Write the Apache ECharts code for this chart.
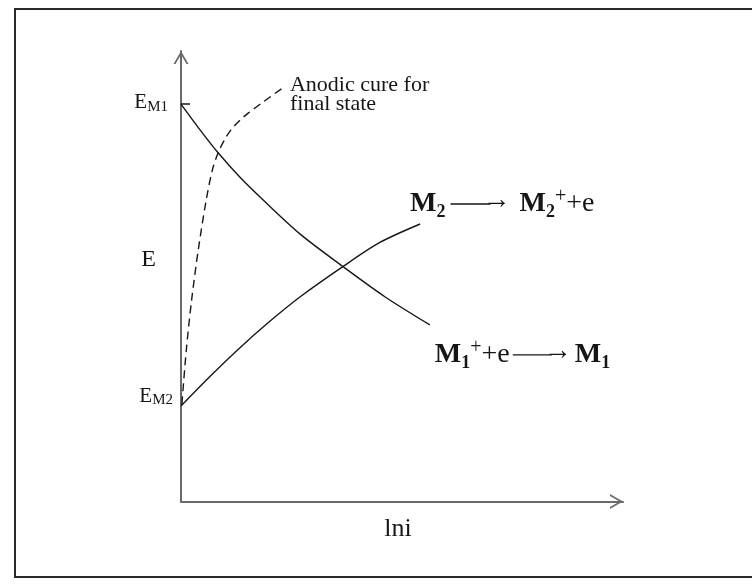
<!DOCTYPE html>
<html>
<head>
<meta charset="utf-8">
<script src="https://cdn.jsdelivr.net/npm/echarts@6/dist/echarts.min.js"></script>
<style>
  html, body { margin: 0; padding: 0; background: #ffffff; }
  #chart { width: 752px; height: 587px; }
</style>
</head>
<body>
<div id="chart"></div>
<script>
// Polarization diagram: potential E against ln i (arbitrary units, 0-100 on both axes)

// Cathodic branch  M1+ + e -> M1, starting at the equilibrium potential E_M1
const cathodicM1 = [[0, 88.2], [4.3, 82.5], [8.4, 77.4], [13.4, 71.9], [18.6, 66.9],
                    [26.9, 59.4], [36.7, 52.1], [46.2, 45.4], [56.3, 39.2]];
// Anodic branch  M2 -> M2+ + e, starting at the equilibrium potential E_M2
const anodicM2 = [[0, 21.2], [6.6, 27.8], [13.4, 34.2], [20.1, 40.0], [26.9, 45.4],
                  [36.7, 52.2], [45.0, 57.5], [54.1, 61.6]];
// Anodic curve for the final state (dashed)
const anodicFinal = [[0.2, 21.6], [1.2, 33.6], [2.4, 44.7], [3.9, 55.8], [5.7, 66.9], [7.1, 73.6],
                     [8.4, 77.4], [9.8, 80.2], [11.3, 82.5], [13.4, 84.7], [15.2, 86.2],
                     [18.6, 88.7], [23.3, 92.0]];
// Marked potential on the E axis
const tickPotentials = [88.2];

const SERIF = '"Liberation Serif", "Times New Roman", serif';
const INK = '#161616';
const AXIS = '#6a6a6a';

// open chevron arrow head, pointing up (rotated by the axis)
const chevron = 'path://M0,13 L7.5,0 L15,13 L13,13 L7.5,3.4 L2,13 Z';

// rich text styles shared by the reaction labels; the long reaction arrow is a
// thin bar token followed by an arrow glyph that overlaps the bar's end
function reactionRich(gapBefore, barWidth, gapAfter) {
  return {
    b:  { fontFamily: SERIF, fontWeight: 'bold', fontSize: 28, lineHeight: 34, verticalAlign: 'middle', color: INK },
    sb: { fontFamily: SERIF, fontWeight: 'bold', fontSize: 18, lineHeight: 21, verticalAlign: 'bottom', color: INK },
    sp: { fontFamily: SERIF, fontSize: 20, lineHeight: 11, verticalAlign: 'top', color: INK },
    r:  { fontFamily: SERIF, fontSize: 28, lineHeight: 34, verticalAlign: 'middle', color: INK },
    g1: { width: gapBefore },
    ln: { width: barWidth, height: 1.4, verticalAlign: 'middle', backgroundColor: INK },
    hd: { fontFamily: SERIF, fontSize: 28, lineHeight: 34, verticalAlign: 'top', color: INK, padding: [0, 0, 0, -8] },
    g2: { width: gapAfter }
  };
}
const potentialRich = {
  e: { fontFamily: SERIF, fontSize: 21, lineHeight: 24, verticalAlign: 'middle', color: INK },
  s: { fontFamily: SERIF, fontSize: 15, lineHeight: 14, verticalAlign: 'bottom', color: INK }
};

// attach labels to chosen points of a curve (by index)
function withLabels(points, labels) {
  return points.map(function (p, i) {
    return labels[i] ? { value: p, label: Object.assign({ show: true }, labels[i]) } : { value: p };
  });
}

const cathodicData = withLabels(cathodicM1, {
  0: { position: 'left', distance: 13, offset: [0, -2], formatter: '{e|E}{s|M1}', rich: potentialRich },
  8: { position: 'right', distance: 0, offset: [5, 30],
       formatter: '{b|M}{sb|1}{sp|+}{r|+e}{g1| }{ln| }{hd|→}{g2| }{b|M}{sb|1}',
       rich: reactionRich(3, 39, 3) }
});
const anodicData = withLabels(anodicM2, {
  0: { position: 'left', distance: 8, offset: [0, -10], formatter: '{e|E}{s|M2}', rich: potentialRich },
  7: { position: 'right', distance: 0, offset: [-10, -20],
       formatter: '{b|M}{sb|2}{g1| }{ln| }{hd|→}{g2| }{b|M}{sb|2}{sp|+}{r|+e}',
       rich: reactionRich(5, 40, 9) }
});
const finalData = withLabels(anodicFinal, {
  12: { position: 'right', distance: 6, offset: [0, 8], formatter: 'Anodic cure for\nfinal state',
        fontFamily: SERIF, fontSize: 22, lineHeight: 19, color: INK, align: 'left' }
});

const chart = echarts.init(document.getElementById('chart'), null, { renderer: 'canvas' });

chart.setOption({
  animation: false,
  backgroundColor: '#ffffff',
  grid: { left: 181, right: 129, top: 51, bottom: 85.5, containLabel: false, outerBoundsMode: 'none' },
  xAxis: {
    type: 'value', min: 0, max: 100,
    name: 'lni', nameLocation: 'middle', nameGap: 15,
    nameTextStyle: { fontFamily: SERIF, fontSize: 26, color: INK, padding: [0, 8, 0, 0] },
    axisLine: { show: true, symbol: ['none', chevron], symbolSize: [15, 13], symbolOffset: [0, -6.5],
                lineStyle: { color: AXIS, width: 2 } },
    axisTick: { show: false }, axisLabel: { show: false }, splitLine: { show: false }
  },
  yAxis: {
    type: 'value', min: 0, max: 100,
    name: '{n|E}', nameLocation: 'middle', nameRotate: 0, nameGap: 25,
    nameTextStyle: {
      rich: { n: { fontFamily: SERIF, fontSize: 24, lineHeight: 26, color: INK, padding: [0, 0, 34, 0] } }
    },
    axisLine: { show: true, symbol: ['none', chevron], symbolSize: [15, 13], symbolOffset: [0, -6.5],
                lineStyle: { color: AXIS, width: 2 } },
    axisTick: { show: true, inside: true, length: 9, customValues: tickPotentials,
                lineStyle: { color: INK, width: 1.5 } },
    axisLabel: { show: false }, splitLine: { show: false }
  },
  graphic: [{
    type: 'rect', silent: true, z: -1,
    shape: { x: 15, y: 9, width: 760, height: 568 },
    style: { fill: 'none', stroke: '#2a2a2a', lineWidth: 2 }
  }],
  series: [
    {
      name: 'M1+ + e → M1', type: 'line', data: cathodicData, smooth: 0.3,
      symbol: 'circle', symbolSize: 0, showSymbol: true,
      lineStyle: { color: INK, width: 1.4 }, itemStyle: { color: INK }
    },
    {
      name: 'M2 → M2+ + e', type: 'line', data: anodicData, smooth: 0.3,
      symbol: 'circle', symbolSize: 0, showSymbol: true,
      lineStyle: { color: INK, width: 1.4 }, itemStyle: { color: INK }
    },
    {
      name: 'Anodic cure for final state', type: 'line', data: finalData, smooth: 0.3,
      symbol: 'circle', symbolSize: 0, showSymbol: true,
      lineStyle: { color: INK, width: 1.4, type: [8, 5] }, itemStyle: { color: INK }
    }
  ]
});
</script>
</body>
</html>
